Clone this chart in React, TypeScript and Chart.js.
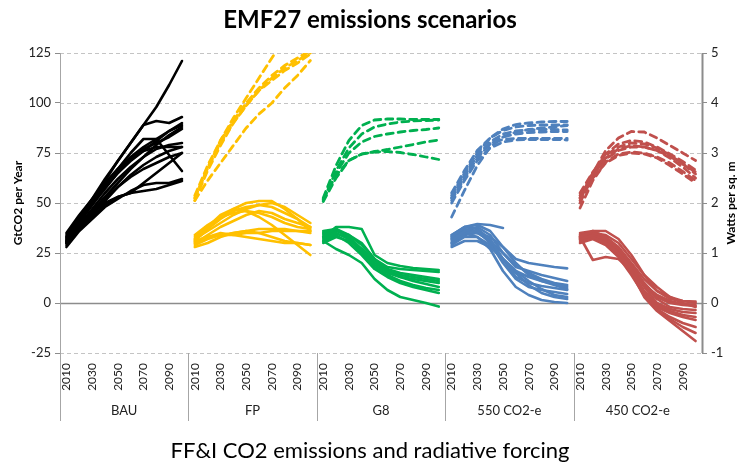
import React, { useEffect, useRef } from 'react';
import { Chart, registerables } from 'chart.js';

Chart.register(...registerables);

const years = [2010, 2020, 2030, 2040, 2050, 2060, 2070, 2080, 2090, 2100];
const panelNames = ['BAU', 'FP', 'G8', '550 CO2-e', '450 CO2-e'];
const panelColors = ['#000000', '#FFC000', '#00B050', '#4F81BD', '#C0504D'];

const titleText = 'EMF27 emissions scenarios';
const subtitleText = 'FF&I CO2 emissions and radiative forcing';
const leftAxisTitle = 'GtCO2 per Year';
const rightAxisTitle = 'Watts per sq. m';

// GtCO2 per year
const bauEmissions = [
  [33, 43, 52, 62, 71, 80, 89, 98, 109, 121],
  [32, 42, 51, 61, 71, 80, 89, 91, 90, 93],
  [31, 40, 49, 58, 67, 75, 82, 82, 74, 66],
  [32, 41, 49, 57, 65, 71, 76, 81, 86, 90],
  [30, 38, 46, 53, 60, 67, 73, 79, 84, 88],
  [31, 39, 47, 55, 62, 68, 73, 77, 79, 80],
  [29, 37, 44, 51, 58, 64, 69, 73, 76, 78],
  [30, 38, 45, 52, 58, 63, 67, 70, 73, 75],
  [31, 39, 45, 50, 53, 55, 60, 65, 70, 75],
  [30, 37, 43, 49, 53, 55, 56, 57, 59, 61],
  [28, 36, 42, 48, 52, 56, 59, 60, 60, 62],
  [33, 42, 50, 58, 65, 72, 76, 78, 78, 78],
  [34, 43, 51, 59, 66, 72, 77, 80, 83, 87],
  [35, 44, 52, 60, 67, 73, 78, 82, 86, 89],
];

const fpEmissions = [
  [33, 38, 43, 47, 50, 51, 51, 47, 42, 38],
  [31, 37, 42, 46, 48, 49, 48, 45, 42, 36],
  [32, 38, 44, 47, 46, 43, 39, 34, 29, 24],
  [30, 34, 38, 41, 44, 46, 45, 42, 40, 38],
  [29, 32, 34, 35, 36, 37, 37, 37, 36, 35],
  [30, 33, 34, 34, 35, 35, 36, 36, 36, 36],
  [31, 33, 35, 34, 33, 32, 31, 30, 30, 29],
  [28, 30, 33, 35, 36, 35, 33, 31, 30, 29],
  [34, 39, 43, 45, 46, 45, 43, 40, 38, 37],
  [32, 36, 40, 44, 47, 49, 50, 48, 44, 40],
];

const g8Emissions = [
  [33, 38, 38, 37, 24, 20, 18.5, 17.5, 17, 16.5],
  [34, 37, 34, 29, 22, 18, 17, 16.5, 16, 15.5],
  [35, 37, 33, 27, 21, 17, 15, 14, 13, 12],
  [32, 35, 32, 26, 19, 15, 13, 12, 11, 10],
  [36, 37, 32, 25, 18, 14, 11, 9, 7.5, 6.5],
  [31, 34, 30, 24, 17, 13, 10, 8, 6.5, 5],
  [31, 27, 24, 20, 12, 6.5, 3, 1.5, 0, -1.8],
  [33, 36, 34, 30, 22, 16, 13, 11, 9.5, 8],
  [30, 33, 31, 27, 20, 16, 14, 13, 12, 11],
];

const co550Emissions = [
  [33, 38, 39, 36, 28, 22, 20, 19, 18, 17.3],
  [31, 36, 38, 34, 25, 18, 16, 14, 12.5, 11],
  [34, 38, 37, 32, 22, 16, 13, 11, 9.5, 8],
  [30, 35, 36, 31, 22, 13, 10, 8.5, 7.5, 6.5],
  [32, 37, 36, 30, 20, 12, 8, 6.5, 5.5, 4.5],
  [29, 33, 33, 29, 22, 15, 9, 5, 3, 2],
  [32, 35, 33, 27, 16, 8, 4, 1.5, 0.5, 0],
  [34, 38, 39.5, 39, 37.5, null, null, null, null, null],
  [30, 34, 35, 33, 28, 20, 14, 11, 9, 7],
  [33, 36, 35, 31, 25, 19, 15, 12, 10, 9],
  [28, 31, 31, 28, 22, 16, 11, 7, 4, 3],
];

const co450Emissions = [
  [33, 36, 36, 32, 24, 14, 6, 2, 1, 0.7],
  [34, 35, 33, 28, 20, 12, 6, 3, 1, 0],
  [32, 34, 32, 27, 19, 10, 3, 0, -1, -1.5],
  [31, 33, 30, 25, 17, 9, 2, -2, -3, -3.5],
  [35, 36, 33, 27, 18, 8, 0, -3, -4.5, -5],
  [33, 34, 31, 25, 16, 6, -1, -4, -6, -7],
  [32, 33, 30, 24, 15, 5, -2, -5, -7, -8.5],
  [30, 32, 29, 23, 14, 4, -3, -7, -10, -12],
  [34, 35, 32, 26, 16, 5, -3, -8, -12, -15],
  [33, 34, 31, 25, 15, 3, -4, -9, -14, -19],
  [33, 21.5, 23, 22, 16, 9, 4, 1, -0.5, -1],
  [32, 35, 34, 30, 22, 14, 8, 3, 0, -2],
];

// Watts per sq. m
const fpForcing = [
  [2.1, 2.7, 3.25, 3.7, 4.1, 4.5, 4.9, 5.3, 5.6, 5.9],
  [2.05, 2.65, 3.15, 3.6, 3.95, 4.25, 4.5, 4.7, 4.85, 5.0],
  [2.1, 2.7, 3.2, 3.6, 3.95, 4.25, 4.45, 4.65, 4.8, 4.98],
  [2.05, 2.45, 2.8, 3.15, 3.5, 3.78, 4.0, 4.3, 4.55, 4.85],
  [2.15, 2.75, 3.25, 3.65, 4.0, 4.3, 4.55, 4.75, 4.9, 5.05],
];

const g8Forcing = [
  [2.1, 2.75, 3.25, 3.55, 3.66, 3.68, 3.68, 3.67, 3.67, 3.67],
  [2.05, 2.65, 3.1, 3.38, 3.52, 3.58, 3.62, 3.64, 3.65, 3.66],
  [2.07, 2.6, 3.0, 3.22, 3.33, 3.38, 3.42, 3.45, 3.47, 3.5],
  [2.03, 2.5, 2.85, 2.98, 3.03, 3.07, 3.12, 3.17, 3.22, 3.26],
  [2.08, 2.55, 2.85, 2.98, 3.02, 3.03, 3.01, 2.97, 2.92, 2.87],
];

const co550Forcing = [
  [2.15, 2.6, 3.0, 3.3, 3.48, 3.57, 3.6, 3.62, 3.63, 3.63],
  [2.2, 2.65, 3.05, 3.3, 3.45, 3.52, 3.55, 3.56, 3.56, 3.56],
  [2.1, 2.55, 2.95, 3.22, 3.38, 3.44, 3.46, 3.47, 3.47, 3.46],
  [2.05, 2.5, 2.9, 3.18, 3.32, 3.38, 3.41, 3.42, 3.43, 3.43],
  [2.1, 2.55, 2.95, 3.18, 3.27, 3.29, 3.29, 3.29, 3.29, 3.29],
  [2.0, 2.45, 2.85, 3.1, 3.22, 3.26, 3.27, 3.27, 3.27, 3.26],
  [1.72, 2.25, 2.75, 3.12, 3.32, 3.42, 3.47, 3.5, 3.52, 3.55],
];

const co450Forcing = [
  [2.05, 2.6, 3.05, 3.3, 3.43, 3.42, 3.3, 3.15, 3.0, 2.85],
  [2.1, 2.6, 2.98, 3.18, 3.25, 3.22, 3.12, 2.98, 2.83, 2.66],
  [2.2, 2.62, 2.95, 3.12, 3.2, 3.18, 3.1, 2.96, 2.78, 2.58],
  [2.0, 2.55, 2.9, 3.08, 3.15, 3.12, 3.05, 2.93, 2.78, 2.62],
  [2.15, 2.55, 2.88, 3.05, 3.12, 3.12, 3.05, 2.9, 2.72, 2.5],
  [1.9, 2.45, 2.82, 2.98, 3.02, 3.0, 2.92, 2.8, 2.63, 2.45],
  [2.1, 2.5, 2.8, 2.95, 3.0, 2.98, 2.9, 2.75, 2.58, 2.4],
];

const emissionsByPanel = [bauEmissions, fpEmissions, g8Emissions, co550Emissions, co450Emissions];
const forcingByPanel = [[], fpForcing, g8Forcing, co550Forcing, co450Forcing];

const FONT = 'Lato, "Noto Sans", sans-serif';
const AXIS_GRAY = '#8c8c8c';

function buildDatasets() {
  const n = panelNames.length * years.length;
  const out: any[] = [];
  const place = (p: number, series: (number | null)[]) => {
    const data: (number | null)[] = new Array(n).fill(null);
    series.forEach((v, i) => {
      data[p * years.length + i] = v;
    });
    return data;
  };
  emissionsByPanel.forEach((group, p) => {
    group.forEach((s) => {
      out.push({
        data: place(p, s),
        yAxisID: 'y',
        borderColor: panelColors[p],
        borderWidth: 2.6,
        pointRadius: 0,
        tension: 0,
        spanGaps: false,
        fill: false,
        borderCapStyle: 'round',
        borderJoinStyle: 'round',
      });
    });
  });
  forcingByPanel.forEach((group, p) => {
    group.forEach((s) => {
      out.push({
        data: place(p, s),
        yAxisID: 'y1',
        borderColor: panelColors[p],
        borderWidth: 2.8,
        borderDash: [7, 5],
        pointRadius: 0,
        tension: 0,
        spanGaps: false,
        fill: false,
        borderCapStyle: 'round',
      });
    });
  });
  return out;
}

const decorPlugin = {
  id: 'decor',
  beforeDatasetsDraw(chart: any) {
    const { ctx, chartArea, scales } = chart;
    const ys = scales.y;
    ctx.save();
    // dashed grid lines
    ctx.strokeStyle = '#c4c4c4';
    ctx.lineWidth = 1;
    ctx.setLineDash([4, 3]);
    ys.ticks.forEach((t: any) => {
      if (t.value === 0) return;
      const py = Math.round(ys.getPixelForValue(t.value)) + 0.5;
      ctx.beginPath();
      ctx.moveTo(chartArea.left, py);
      ctx.lineTo(chartArea.right, py);
      ctx.stroke();
    });
    ctx.setLineDash([]);
    // zero line
    const y0 = Math.round(ys.getPixelForValue(0)) + 0.5;
    ctx.strokeStyle = AXIS_GRAY;
    ctx.lineWidth = 1.5;
    ctx.beginPath();
    ctx.moveTo(chartArea.left, y0);
    ctx.lineTo(chartArea.right, y0);
    ctx.stroke();
    ctx.restore();
  },
  afterDraw(chart: any) {
    const { ctx, chartArea, scales } = chart;
    const xs = scales.x;
    const half = (xs.getPixelForValue(1) - xs.getPixelForValue(0)) / 2;
    const bottom = xs.bottom;
    ctx.save();
    ctx.strokeStyle = '#a6a6a6';
    ctx.lineWidth = 1;
    // left axis line
    ctx.beginPath();
    ctx.moveTo(Math.round(chartArea.left) + 0.5, chartArea.top);
    ctx.lineTo(Math.round(chartArea.left) + 0.5, bottom);
    ctx.stroke();
    // separators
    for (let k = 1; k < panelNames.length; k++) {
      const px = Math.round(xs.getPixelForValue(k * years.length) - half) + 0.5;
      ctx.beginPath();
      ctx.moveTo(px, chartArea.bottom);
      ctx.lineTo(px, bottom);
      ctx.stroke();
    }
    // right axis line
    ctx.strokeStyle = AXIS_GRAY;
    ctx.lineWidth = 2;
    ctx.beginPath();
    ctx.moveTo(chartArea.right + 0.5, chartArea.top);
    ctx.lineTo(chartArea.right + 0.5, chartArea.bottom);
    ctx.stroke();
    // group labels
    ctx.fillStyle = '#222';
    ctx.font = `13px ${FONT}`;
    ctx.textAlign = 'center';
    ctx.textBaseline = 'middle';
    panelNames.forEach((name, k) => {
      const left = xs.getPixelForValue(k * years.length) - half;
      const right = xs.getPixelForValue((k + 1) * years.length - 1) + half;
      ctx.fillText(name, (left + right) / 2, bottom - 10);
    });
    // axis titles
    const midY = (chartArea.top + chartArea.bottom) / 2;
    ctx.fillStyle = '#000';
    ctx.font = `bold 12px ${FONT}`;
    ctx.save();
    ctx.translate(18, midY);
    ctx.rotate(-Math.PI / 2);
    ctx.fillText(leftAxisTitle, 0, 0);
    ctx.restore();
    ctx.save();
    ctx.translate(731, midY);
    ctx.rotate(-Math.PI / 2);
    ctx.fillText(rightAxisTitle, 0, 0);
    ctx.restore();
    ctx.restore();
  },
};

export default function App() {
  const ref = useRef<HTMLCanvasElement | null>(null);
  useEffect(() => {
    document.body.style.margin = '0';
    if (!ref.current) return;
    const labels = panelNames.flatMap(() => years.map(String));
    const chart = new Chart(ref.current, {
      type: 'line',
      data: { labels, datasets: buildDatasets() },
      plugins: [decorPlugin],
      options: {
        responsive: false,
        animation: false,
        devicePixelRatio: 1,
        layout: { padding: 0 },
        plugins: {
          legend: { display: false },
          tooltip: { enabled: false },
          title: {
            display: true,
            text: titleText,
            color: '#000',
            font: { family: FONT, size: 24, weight: 'bold' },
            padding: { top: 6, bottom: 18.2 },
          },
          subtitle: {
            display: true,
            position: 'bottom',
            text: subtitleText,
            color: '#000',
            font: { family: FONT, size: 22, weight: 'normal' },
            padding: { top: 16.6, bottom: 4 },
          },
        },
        scales: {
          x: {
            type: 'category',
            offset: true,
            grid: { display: false, drawTicks: false },
            border: { display: false },
            ticks: {
              autoSkip: false,
              maxRotation: 90,
              minRotation: 90,
              padding: 10,
              color: '#222',
              font: { family: FONT, size: 12 },
              callback: (_v: any, i: number) => (i % 2 === 0 ? labels[i] : ''),
            },
            afterFit: (s: any) => {
              s.height = 68;
            },
          },
          y: {
            position: 'left',
            min: -25,
            max: 125,
            ticks: {
              stepSize: 25,
              padding: 4,
              color: '#222',
              font: { family: FONT, size: 13 },
            },
            grid: {
              drawOnChartArea: false,
              drawTicks: true,
              tickLength: 5,
              tickColor: AXIS_GRAY,
            },
            border: { display: false },
            afterFit: (s: any) => {
              s.width = 60;
            },
          },
          y1: {
            position: 'right',
            min: -1,
            max: 5,
            ticks: {
              stepSize: 1,
              padding: 4,
              color: '#222',
              font: { family: FONT, size: 13 },
            },
            grid: {
              drawOnChartArea: false,
              drawTicks: true,
              tickLength: 5,
              tickColor: AXIS_GRAY,
            },
            border: { display: false },
            afterFit: (s: any) => {
              s.width = 38;
            },
          },
        },
      },
    });
    return () => chart.destroy();
  }, []);
  return (
    <div style={{ position: 'absolute', left: 0, top: 0, width: 740, height: 468 }}>
      <canvas ref={ref} width={740} height={468} style={{ width: 740, height: 468 }} />
    </div>
  );
}
